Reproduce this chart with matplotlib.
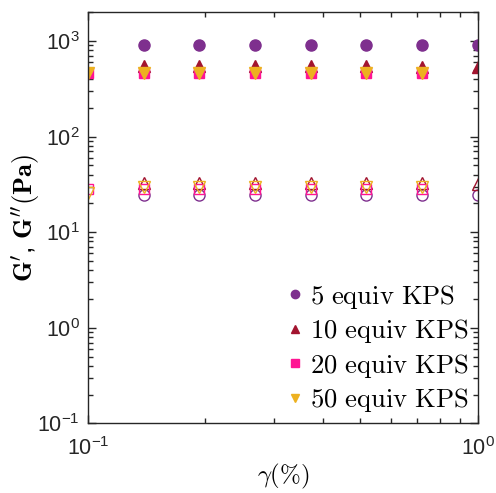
import matplotlib
matplotlib.use('Agg')
import matplotlib.pyplot as plt
from matplotlib.ticker import LogLocator, NullFormatter

plt.rcParams['font.family'] = ['Liberation Sans', 'DejaVu Sans']
plt.rcParams['mathtext.fontset'] = 'cm'

# strain amplitude (%)
strain = [0.1, 0.139, 0.193, 0.268, 0.373, 0.518, 0.720, 1.0]

# 5 equiv KPS (measured from 0.139 to 1.0)
gp_5 = [915, 915, 915, 915, 915, 915, 915]
gpp_5 = [24.5, 24.5, 24.5, 24.3, 24.3, 24.3, 24.3]
# 10 equiv KPS (0.139 to 1.0)
gp_10 = [545, 545, 545, 545, 545, 540, 530]
gpp_10 = [33, 33, 33, 33, 32.5, 32.5, 32]
# 20 equiv KPS (0.1 to 0.72)
gp_20 = [462, 462, 462, 462, 462, 462, 462]
gpp_20 = [28, 28.5, 28.5, 28.5, 28.5, 28.5, 28.5]
# 50 equiv KPS (0.1 to 0.72)
gp_50 = [462, 462, 462, 462, 462, 462, 462]
gpp_50 = [26, 29.5, 29.5, 29.5, 29.5, 29.5, 29.5]

labels = ['5 equiv KPS', '10 equiv KPS', '20 equiv KPS', '50 equiv KPS']
colors = ['#7E2F8E', '#A2142F', '#FF1493', '#EDB120']
markers = ['o', '^', 's', 'v']
msizes = [8, 8, 7, 8]

series = [
    (strain[1:], gp_5, gpp_5),
    (strain[1:], gp_10, gpp_10),
    (strain[:-1], gp_20, gpp_20),
    (strain[:-1], gp_50, gpp_50),
]

fig = plt.figure(figsize=(4.96, 4.93), dpi=100)
ax = fig.add_axes([0.178, 0.1414, 0.785, 0.8336])

handles = []
for (xs, gp, gpp), lab, c, m, ms in zip(series, labels, colors, markers, msizes):
    h, = ax.plot(xs, gp, linestyle='none', marker=m, ms=ms, color=c,
                 markeredgecolor=c, label='$\\mathrm{' + lab.replace(' ', '\\ ') + '}$')
    ax.plot(xs, gpp, linestyle='none', marker=m, ms=ms, markerfacecolor='none',
            markeredgecolor=c, markeredgewidth=1.0)
    handles.append(h)

ax.set_xscale('log')
ax.set_yscale('log')
ax.set_xlim(0.1, 1.0)
ax.set_ylim(0.1, 2000)

ax.yaxis.set_major_locator(LogLocator(base=10, numticks=10))
ax.yaxis.set_minor_locator(LogLocator(base=10, subs=range(2, 10), numticks=20))
ax.yaxis.set_minor_formatter(NullFormatter())
ax.xaxis.set_minor_formatter(NullFormatter())

ax.tick_params(which='both', direction='in', top=True, right=True,
               labelsize=15.5, colors='#262626', width=1.0)
ax.tick_params(which='major', length=6)
ax.tick_params(which='minor', length=3.5)
for s in ax.spines.values():
    s.set_color('#262626')
    s.set_linewidth(1.0)
ax.tick_params(axis='x', pad=10)
ax.tick_params(axis='y', pad=6)

ax.set_xlabel('$\\gamma(\\%)$', fontsize=18, labelpad=1)
ax.set_ylabel("$\\mathbf{G}'$, $\\mathbf{G}''(\\mathbf{Pa})$", fontsize=19, labelpad=-3)

ax.legend(handles=handles, loc='lower right', frameon=False, fontsize=19.2,
          markerscale=0.75, handlelength=0.5, handletextpad=0.3,
          labelspacing=0.24, borderaxespad=0.25, borderpad=0.1)

fig.savefig('out.png', dpi=100)
